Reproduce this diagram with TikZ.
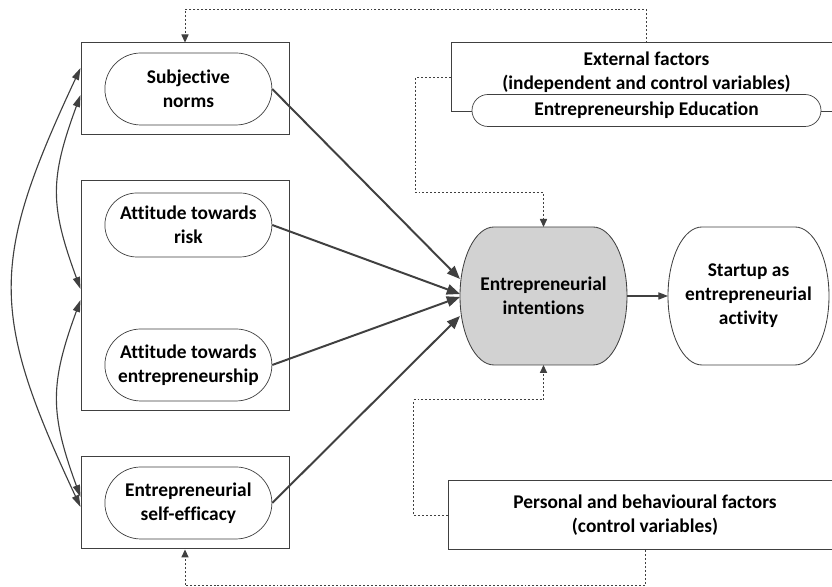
\documentclass[tikz,border=0pt]{standalone}
\usepackage{fontspec}
\setmainfont{Carlito}[Ligatures=NoCommon]
\usetikzlibrary{arrows.meta,shapes.misc,positioning,backgrounds}

\definecolor{linegray}{HTML}{404040}
\definecolor{intgray}{HTML}{D2D2D2}

\tikzset{
  outerbox/.style={draw=linegray, line width=0.7pt, fill=white, minimum width=5.2cm, minimum height=2.3cm},
  pill/.style={rounded rectangle, draw=linegray, line width=0.5pt, fill=white, align=center, inner sep=0pt, minimum width=4.175cm, minimum height=1.8cm},
  factorbox/.style={draw=linegray, line width=0.7pt, fill=white, align=center},
  roundbox/.style={align=center, inner sep=0pt, outer sep=0pt, minimum width=4.175cm, minimum height=3.45cm},
  mainarrow/.style={draw=linegray, line width=1.4pt, -{Triangle[length=0.33cm, width=0.26cm]}},
  thinarrow/.style={draw=linegray, line width=0.8pt, -{Triangle[length=0.24cm, width=0.18cm]}},
  dotarrow/.style={draw=linegray, line width=0.7pt, dash pattern=on 1.4pt off 1.4pt, -{Triangle[length=0.2cm, width=0.18cm]}},
  corrarrow/.style={draw=linegray, line width=0.8pt, {Triangle[length=0.3cm, width=0.18cm]}-{Triangle[length=0.3cm, width=0.18cm]}}
}

% rounded box with flat top and bottom, drawn behind its node
\newcommand{\softbox}[2]{%
  \begin{scope}[on background layer]
    \draw[draw=linegray, line width=0.6pt, fill=#2]
      ([xshift=0.85cm]#1.north west) -- ([xshift=-0.85cm]#1.north east)
      arc[start angle=90, end angle=-90, x radius=0.85cm, y radius=1.725cm]
      -- ([xshift=0.85cm]#1.south west)
      arc[start angle=270, end angle=90, x radius=0.85cm, y radius=1.725cm]
      -- cycle;
  \end{scope}}

\begin{document}
\begin{tikzpicture}[font=\bfseries\fontsize{13.8pt}{17pt}\selectfont]
\useasboundingbox (0,0) rectangle (20.8,14.675);
\clip (0,0) rectangle (20.8,14.675);

%Antecedents
\node[outerbox] (subjbox) at (4.625,12.45) {};
\node[pill] (subj) at (4.71,12.45) {Subjective\\norms};

\node[outerbox, minimum height=5.75cm] (attbox) at (4.625,7.275) {};
\node[pill, minimum height=1.6cm] (risk) at (4.71,9.05) {Attitude towards\\risk};
\node[pill] (entr) at (4.71,5.55) {Attitude towards\\entrepreneurship};

\node[outerbox] (sebox) at (4.625,2.1) {};
\node[pill] (se) at (4.71,2.1) {Entrepreneurial\\self-efficacy};

%Intentions and outcome
\node[roundbox] (int) at (13.5875,7.275) {Entrepreneurial\\intentions};
\softbox{int}{intgray}
\node[roundbox, minimum width=4.025cm] (start) at (18.7125,7.275) {Startup as\\entrepreneurial\\activity};
\softbox{start}{white}

%External factors
\node[factorbox, minimum width=9.775cm, minimum height=1.725cm] (ext) at (16.1625,12.7375) {};
\node[below=0.22cm of ext.north, align=center, inner sep=0pt] (exttext) {External factors\\(independent and control variables)};
\node[pill, minimum width=8.725cm, minimum height=0.8cm] (edu) at ([yshift=0.05cm]ext.south) {Entrepreneurship Education};

%Personal factors
\node[factorbox, minimum width=9.85cm, minimum height=1.725cm] (pers) at (16.125,1.7875) {Personal and behavioural factors\\(control variables)};

%Paths
\draw[mainarrow] (subj.east) -- ([yshift=0.425cm]int.west);
\draw[mainarrow] (risk.east) -- ([yshift=0.05cm]int.west);
\draw[mainarrow] (entr.east) -- ([yshift=-0.025cm]int.west);
\draw[mainarrow] (se.east) -- ([yshift=-0.5cm]int.west);
\draw[thinarrow] (int.east) -- (start.west);

%Correlations
\draw[corrarrow] ([yshift=0.525cm]subjbox.west) .. controls +(-2.27,-4.85) and +(-2.27,4.85) .. ([yshift=-0.1cm]sebox.west);
\draw[corrarrow] ([yshift=-0.15cm]subjbox.west) .. controls +(-0.77,-2.1) and +(-0.77,2.1) .. ([yshift=0.175cm]attbox.west);
\draw[corrarrow] ([yshift=-0.1cm]attbox.west) .. controls +(-0.77,-2.1) and +(-0.77,2.1) .. ([yshift=0.15cm]sebox.west);

%Control links
\draw[dotarrow] (ext.north) -- ++(0,0.825) -| (subjbox.north);
\draw[dotarrow] (ext.west) -- ++(-0.875,0) |- ([yshift=0.85cm]int.north) -- (int.north);
\draw[dotarrow] (pers.west) -- ++(-0.85,0) |- ([yshift=-0.875cm]int.south) -- (int.south);
\draw[dotarrow] (pers.south) -- ++(0,-0.875) -| (sebox.south);
\end{tikzpicture}
\end{document}
